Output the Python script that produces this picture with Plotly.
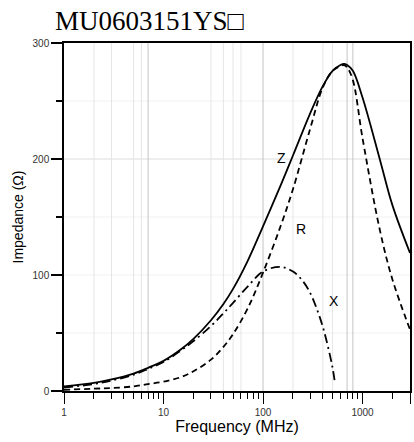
import math
import plotly.graph_objects as go

# ---- data ----
freq_z = [1, 2, 3, 5, 7, 10, 15, 20, 30, 40, 50, 70, 100, 150, 200, 300, 400, 500, 600, 650, 700, 800, 1000, 1500, 2000, 3000]
z_vals = [4, 7, 10, 15, 20, 26, 36, 45, 61, 75, 88, 112, 142, 177, 203, 240, 263, 276, 281, 282, 281, 276, 253, 199, 160, 119]

freq_r = [1, 2, 3, 5, 7, 10, 15, 20, 30, 40, 50, 70, 100, 150, 200, 300, 400, 500, 600, 650, 700, 800, 1000, 1500, 2000, 3000]
r_vals = [1, 2, 2.5, 4, 6, 8, 12, 17, 27, 38, 49, 71, 102, 142, 174, 227, 262, 276, 280, 281, 279, 268, 218, 138, 96, 53]

freq_x = [1, 2, 3, 5, 7, 10, 15, 20, 30, 40, 50, 70, 100, 150, 200, 250, 300, 350, 400, 450, 500, 530]
x_vals = [3, 6, 9, 14, 19, 25, 35, 43, 56, 67, 76, 90, 103, 107, 103, 95, 84, 70, 55, 38, 20, 6]

x_tick_vals = [1, 10, 100, 1000, 3000]
x_tick_text = ["1", "10", "100", "1000", "3000"]
x_minor_vals = [2, 3, 4, 5, 6, 7, 8, 9, 20, 30, 40, 50, 60, 70, 80, 90,
                200, 300, 400, 500, 600, 700, 800, 900, 2000]
y_tick_vals = [0, 100, 200, 300]
y_minor_vals = [50, 150, 250]

grid_light = [2, 3, 5, 6, 30, 40, 50, 60, 200, 400, 500]
grid_dark = [7, 100, 700, 800]
hgrid_faint = [50, 100, 150, 250]
hgrid_mid = [200]

title_text = "MU0603151YS\u25a1"
labels = [("Z", 155, 201), ("R", 240, 140), ("X", 512, 78)]

fig = go.Figure()


def vlines(vals, color):
    xs, ys = [], []
    for v in vals:
        xs += [v, v, None]
        ys += [0, 300, None]
    fig.add_trace(go.Scatter(x=xs, y=ys, mode="lines", hoverinfo="skip",
                             line=dict(color=color, width=1), showlegend=False))


def hlines(vals, color):
    xs, ys = [], []
    for v in vals:
        xs += [1, 3000, None]
        ys += [v, v, None]
    fig.add_trace(go.Scatter(x=xs, y=ys, mode="lines", hoverinfo="skip",
                             line=dict(color=color, width=1), showlegend=False))


hlines(hgrid_faint, "#f1f1f1")
hlines(hgrid_mid, "#dddddd")
vlines(grid_light, "#e6e6e6")
vlines(grid_dark, "#c4c4c4")

fig.add_trace(go.Scatter(x=freq_z, y=z_vals, mode="lines", line_shape="spline",
                         line=dict(color="black", width=1.8), showlegend=False))
fig.add_trace(go.Scatter(x=freq_r, y=r_vals, mode="lines", line_shape="spline",
                         line=dict(color="black", width=1.8, dash="6px,4px"), showlegend=False))
fig.add_trace(go.Scatter(x=freq_x, y=x_vals, mode="lines", line_shape="spline",
                         line=dict(color="black", width=1.8, dash="9px,4px,2px,4px"), showlegend=False))

for txt, fx, fy in labels:
    fig.add_annotation(x=math.log10(fx), y=fy, xref="x", yref="y", text=txt,
                       showarrow=False, font=dict(family="Liberation Sans", size=14, color="black"))

fig.update_layout(
    width=414, height=442,
    margin=dict(l=64, r=2, t=43, b=51),
    paper_bgcolor="white", plot_bgcolor="white",
    font=dict(family="Liberation Sans", color="#333333"),
    title=dict(text=title_text, x=55 / 414, xanchor="left", xref="container",
               y=1 - 21 / 442, yanchor="middle", yref="container",
               font=dict(family="Liberation Serif", size=27, color="black")),
    xaxis=dict(type="log", range=[0, math.log10(3000)],
               tickmode="array", tickvals=x_tick_vals, ticktext=x_tick_text,
               ticks="outside", ticklen=11, tickwidth=1.2, tickcolor="black",
               tickfont=dict(size=10, color="#333333"),
               minor=dict(tickvals=x_minor_vals, ticks="outside", ticklen=6,
                          tickwidth=1.2, tickcolor="black", showgrid=False),
               showgrid=False, zeroline=False,
               showline=True, linecolor="black", linewidth=1.5, mirror=True,
               title=dict(text="Frequency (MHz)", standoff=2,
                          font=dict(size=16, color="black"))),
    yaxis=dict(range=[0, 300],
               tickmode="array", tickvals=y_tick_vals,
               ticks="outside", ticklen=11, tickwidth=1.5, tickcolor="black",
               tickfont=dict(size=10, color="#333333"),
               minor=dict(tickvals=y_minor_vals, ticks="outside", ticklen=6,
                          tickwidth=1.5, tickcolor="black", showgrid=False),
               showgrid=False, zeroline=False,
               showline=True, linecolor="black", linewidth=1.5, mirror=True,
               title=dict(text="Impedance (\u03a9)", standoff=6,
                          font=dict(size=14, color="black"))),
)

fig.write_html("out.html", config={"displayModeBar": False},
               post_script="document.body.style.margin='0px';document.body.style.overflow='hidden';")
